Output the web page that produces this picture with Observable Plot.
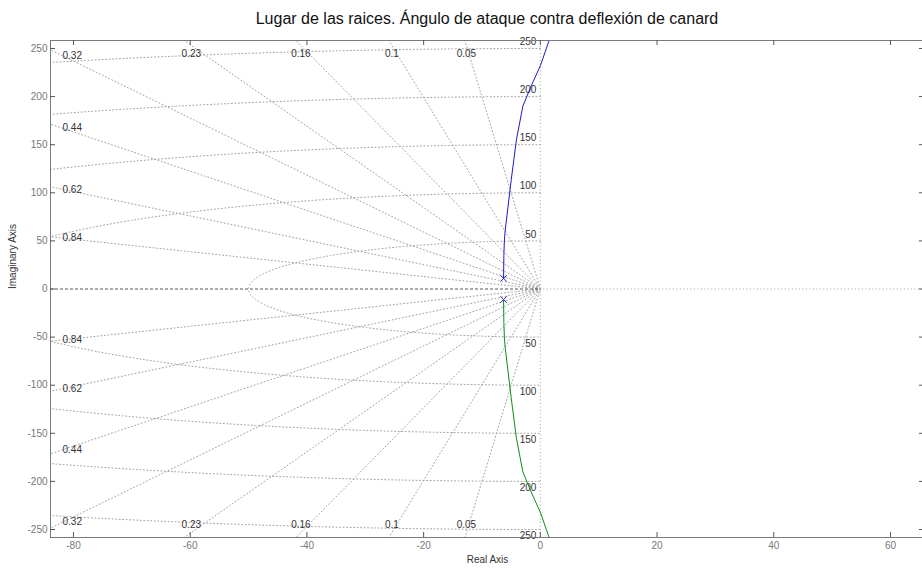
<!DOCTYPE html>
<html>
<head>
<meta charset="utf-8">
<script src="https://cdn.jsdelivr.net/npm/d3@7"></script>
<script src="https://cdn.jsdelivr.net/npm/@observablehq/plot@0.6"></script>
<style>
  html, body { margin: 0; padding: 0; overflow: hidden; background: #fff; }
  #title {
    width: 974px; height: 30px; box-sizing: border-box; padding-top: 11px;
    font: 16px "Liberation Sans", Arial, sans-serif; line-height: 16px;
    text-align: center; color: #111;
  }
  #chart { width: 929px; }
  #chart svg { max-width: none !important; display: block; }
</style>
</head>
<body>
<div id="title">Lugar de las raices. Ángulo de ataque contra deflexión de canard</div>
<div id="chart"></div>
<script>
// Axis ticks
const xTicks = [-80, -60, -40, -20, 0, 20, 40, 60];
const yTicks = [-250, -200, -150, -100, -50, 0, 50, 100, 150, 200, 250];

// s-plane grid: damping ratios and natural frequencies
const zetas = [0.05, 0.1, 0.16, 0.23, 0.32, 0.44, 0.62, 0.84];
const zetaLabels = ["0.05", "0.1", "0.16", "0.23", "0.32", "0.44", "0.62", "0.84"];
const wns = [50, 100, 150, 200, 250];

// Open-loop pole pair (upper one; the lower is its conjugate)
const poleRe = -6.3;
const poleIm = 11;

// Upper locus branch (the lower branch is its mirror image)
const branchRe = [-6.3, -6.25, -6.15, -6.0, -5.0, -4.1, -3.0, -1.5, 0.0, 1.6];
const branchIm = [11, 35, 52, 62, 113, 155, 190, 212, 232, 260];

// Layout
const W = 929, H = 540, mL = 50, mR = 5, mT = 10, mB = 33;
const xDomain = [-83.94, 65.83];
const yDomain = [-258.3, 258.3];
const pxX = (W - mL - mR) / (xDomain[1] - xDomain[0]);
const pxY = (H - mT - mB) / (yDomain[1] - yDomain[0]);

const font = "'Liberation Sans', Arial, sans-serif";
const gridStroke = "#a2a2a2";
const gridDash = "1,2.5";

// Damping-ratio rays from the origin, upper and lower half-planes
const rays = [];
zetas.forEach((z, i) => {
  const s = Math.sqrt(1 - z * z);
  for (const sign of [1, -1]) {
    rays.push({ re: 0, im: 0, k: `${i}${sign}` });
    rays.push({ re: -z * 400, im: sign * s * 400, k: `${i}${sign}` });
  }
});

// Natural-frequency arcs over the left half-plane
const arcs = [];
wns.forEach(wn => {
  for (let a = 90; a <= 270; a += 0.5) {
    const t = a * Math.PI / 180;
    arcs.push({ re: wn * Math.cos(t), im: wn * Math.sin(t), wn });
  }
});

// Damping-ratio labels: on the left edge or along the top/bottom edges
const leftX = xDomain[0] + 12 / pxX;
const topY = yDomain[1] - 5 / pxY;
const zLabels = [];
zetas.forEach((z, i) => {
  const slope = Math.sqrt(1 - z * z) / z;
  const yAtLeft = -leftX * slope;
  for (const sign of [1, -1]) {
    if (yAtLeft < 250) {
      zLabels.push({ re: leftX, im: sign * yAtLeft, t: zetaLabels[i], side: "left", sign });
    } else {
      zLabels.push({ re: -topY / slope, im: sign * topY, t: zetaLabels[i], side: "top", sign });
    }
  }
});

// Frequency labels next to the imaginary axis
const wLabels = [];
wns.forEach(wn => {
  wLabels.push({ re: 0, im: wn, t: String(wn), sign: 1 });
  wLabels.push({ re: 0, im: -wn, t: String(wn), sign: -1 });
});

// Locus rows
const locus = [];
branchRe.forEach((re, i) => locus.push({ re, im: branchIm[i], b: "upper" }));
branchRe.forEach((re, i) => locus.push({ re, im: -branchIm[i], b: "lower" }));

const poles = [{ re: poleRe, im: poleIm }, { re: poleRe, im: -poleIm }];

const tickLenX = 5 / pxY;
const tickLenY = 5 / pxX;
const fmt = d => String(d);

const chart = Plot.plot({
  width: W,
  height: H,
  marginLeft: mL,
  marginRight: mR,
  marginTop: mT,
  marginBottom: mB,
  style: { fontFamily: font, fontSize: "10px", background: "white", overflow: "visible", maxWidth: "none" },
  x: { domain: xDomain },
  y: { domain: yDomain },
  marks: [
    // grid: damping rays and frequency arcs
    Plot.line(rays, { x: "re", y: "im", z: "k", stroke: gridStroke, strokeWidth: 1, strokeDasharray: gridDash, clip: true }),
    Plot.line(arcs, { x: "re", y: "im", z: "wn", stroke: gridStroke, strokeWidth: 1, strokeDasharray: gridDash, clip: true }),
    // imaginary axis and real axis
    Plot.ruleX([0], { y1: yDomain[0], y2: yDomain[1], stroke: gridStroke, strokeDasharray: gridDash }),
    Plot.ruleY([0], { x1: 0, x2: xDomain[1], stroke: gridStroke, strokeDasharray: gridDash }),
    Plot.ruleY([0], { x1: xDomain[0], x2: 0, stroke: "#555", strokeDasharray: "3,2" }),
    // grid labels
    Plot.text(zLabels.filter(d => d.side === "left"), {
      x: "re", y: "im", text: "t", textAnchor: "start", fill: "#333", fontSize: 10
    }),
    Plot.text(zLabels.filter(d => d.side === "top" && d.sign > 0), {
      x: "re", y: "im", text: "t", textAnchor: "middle", dy: 8, fill: "#333", fontSize: 10
    }),
    Plot.text(zLabels.filter(d => d.side === "top" && d.sign < 0), {
      x: "re", y: "im", text: "t", textAnchor: "middle", dy: -8, fill: "#333", fontSize: 10
    }),
    Plot.text(wLabels.filter(d => d.sign > 0), {
      x: "re", y: "im", text: "t", textAnchor: "end", dx: -4, dy: -6.5, fill: "#333", fontSize: 10
    }),
    Plot.text(wLabels.filter(d => d.sign < 0), {
      x: "re", y: "im", text: "t", textAnchor: "end", dx: -4, dy: 6.5, fill: "#333", fontSize: 10
    }),
    // root locus branches
    Plot.line(locus.filter(d => d.b === "upper"), { x: "re", y: "im", stroke: "#1c1cc8", strokeWidth: 1, clip: true }),
    Plot.line(locus.filter(d => d.b === "lower"), { x: "re", y: "im", stroke: "#148a14", strokeWidth: 1, clip: true }),
    Plot.dot(poles, { x: "re", y: "im", symbol: "times", r: 3, stroke: "#2a2acc", strokeWidth: 1 }),
    // box and inward ticks
    Plot.frame({ stroke: "#7a7a7a" }),
    Plot.ruleX(xTicks, { y1: yDomain[0], y2: yDomain[0] + tickLenX, stroke: "#555" }),
    Plot.ruleX(xTicks, { y1: yDomain[1] - tickLenX, y2: yDomain[1], stroke: "#555" }),
    Plot.ruleY(yTicks, { x1: xDomain[0], x2: xDomain[0] + tickLenY, stroke: "#555" }),
    Plot.ruleY(yTicks, { x1: xDomain[1] - tickLenY, x2: xDomain[1], stroke: "#555" }),
    // tick labels
    Plot.axisX(xTicks, { anchor: "bottom", tickSize: 0, tickPadding: 4, tickFormat: fmt, fill: "#777", fontSize: 10, label: null }),
    Plot.axisY(yTicks, { anchor: "left", tickSize: 0, tickPadding: 3, tickFormat: fmt, fill: "#777", fontSize: 10, label: null }),
    // axis titles
    Plot.text(["Real Axis"], { frameAnchor: "bottom", text: d => d, dy: 25, fill: "#333", fontSize: 10 }),
    Plot.text(["Imaginary Axis"], { frameAnchor: "left", text: d => d, rotate: -90, dx: -38, fill: "#333", fontSize: 10 })
  ]
});

document.getElementById("chart").appendChild(chart);
</script>
</body>
</html>
